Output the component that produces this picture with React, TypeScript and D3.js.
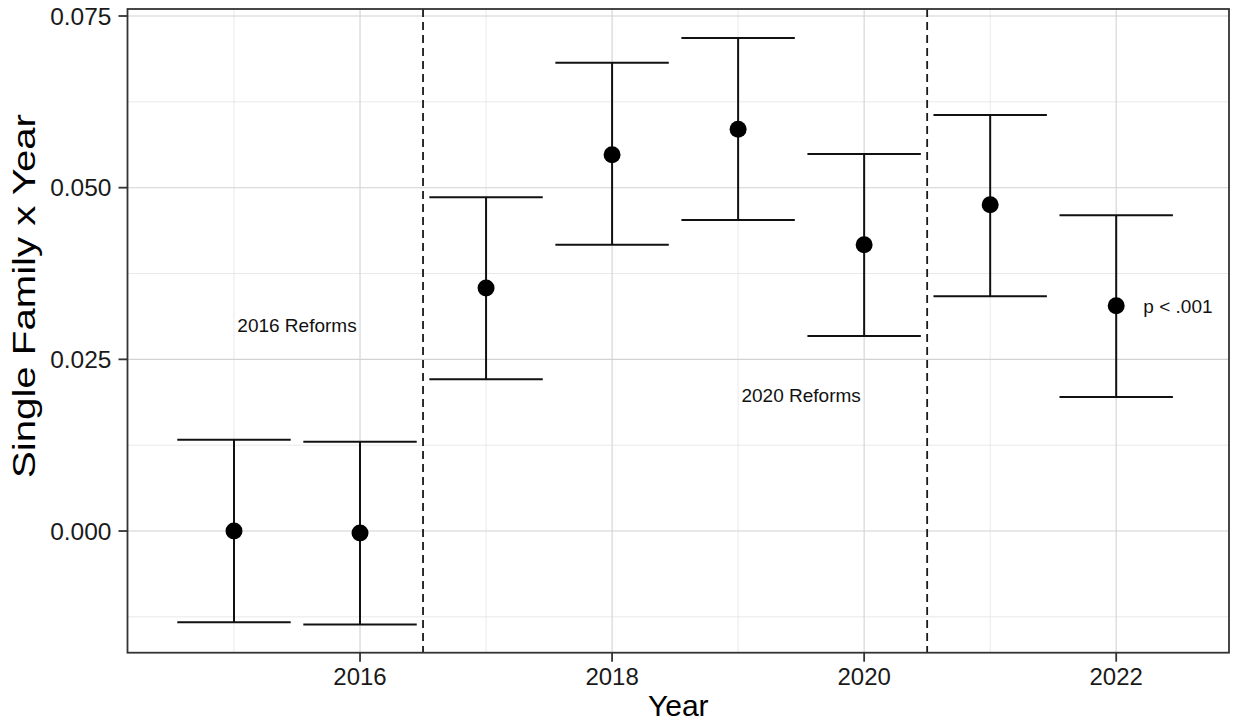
import React from "react";
import * as d3 from "d3";

const years = [2015, 2016, 2017, 2018, 2019, 2020, 2021, 2022];
const estimates = [0.0, -0.0003, 0.0354, 0.0548, 0.0585, 0.0417, 0.0475, 0.0328];
const lowerCI = [-0.0133, -0.0136, 0.0221, 0.0417, 0.0453, 0.0284, 0.0342, 0.0195];
const upperCI = [0.0133, 0.013, 0.0486, 0.0682, 0.0718, 0.0549, 0.0606, 0.046];

const xTicks = [2016, 2018, 2020, 2022];
const xMinor = [2015, 2017, 2019, 2021];
const yTicks = [0.0, 0.025, 0.05, 0.075];
const yTickLabels = ["0.000", "0.025", "0.050", "0.075"];
const yMinor = [-0.0125, 0.0125, 0.0375, 0.0625];
const reformLines = [2016.5, 2020.5];
const annotations = [
  { x: 2015.5, y: 0.03, label: "2016 Reforms" },
  { x: 2019.5, y: 0.0198, label: "2020 Reforms" },
  { x: 2022.49, y: 0.0327, label: "p < .001" },
];

const W = 1235;
const H = 725;
const L = 127.5, R = 1229, T = 9, B = 652.7;
const FONT = "'Liberation Sans', Arial, Helvetica, sans-serif";

export default function App() {
  const x = d3.scaleLinear().domain([2014.155, 2022.895]).range([L, R]);
  const y = d3.scaleLinear().domain([-0.01772, 0.07602]).range([B, T]);
  const capHalf = x(2015.45) - x(2015);

  return (
    <svg width={W} height={H} style={{ position: "absolute", left: 0, top: 0, background: "#fff" }}>
      <rect x={0} y={0} width={W} height={H} fill="#fff" />
      {/* minor grid */}
      {xMinor.map((v) => (
        <line key={"xm" + v} x1={x(v)} x2={x(v)} y1={T} y2={B} stroke="#e3e3e3" strokeWidth={0.8} />
      ))}
      {yMinor.map((v) => (
        <line key={"ym" + v} x1={L} x2={R} y1={y(v)} y2={y(v)} stroke="#e3e3e3" strokeWidth={0.8} />
      ))}
      {/* major grid */}
      {xTicks.map((v) => (
        <line key={"xg" + v} x1={x(v)} x2={x(v)} y1={T} y2={B} stroke="#d2d2d2" strokeWidth={1.1} />
      ))}
      {yTicks.map((v) => (
        <line key={"yg" + v} x1={L} x2={R} y1={y(v)} y2={y(v)} stroke="#d2d2d2" strokeWidth={1.1} />
      ))}
      {/* reform lines */}
      {reformLines.map((v) => (
        <line key={"rl" + v} x1={x(v)} x2={x(v)} y1={T} y2={B} stroke="#1a1a1a" strokeWidth={1.8} strokeDasharray="8,5" />
      ))}
      {/* error bars */}
      {years.map((yr, i) => (
        <g key={"eb" + yr} stroke="#111" strokeWidth={2}>
          <line x1={x(yr)} x2={x(yr)} y1={y(upperCI[i])} y2={y(lowerCI[i])} />
          <line x1={x(yr) - capHalf} x2={x(yr) + capHalf} y1={y(upperCI[i])} y2={y(upperCI[i])} />
          <line x1={x(yr) - capHalf} x2={x(yr) + capHalf} y1={y(lowerCI[i])} y2={y(lowerCI[i])} />
        </g>
      ))}
      {/* points */}
      {years.map((yr, i) => (
        <circle key={"pt" + yr} cx={x(yr)} cy={y(estimates[i])} r={8.5} fill="#000" />
      ))}
      {/* annotations */}
      {annotations.map((a) => (
        <text key={a.label} x={x(a.x)} y={y(a.y)} textAnchor="middle" dominantBaseline="central"
          fontFamily={FONT} fontSize={19} fill="#111">{a.label}</text>
      ))}
      {/* panel border */}
      <rect x={L} y={T} width={R - L} height={B - T} fill="none" stroke="#333" strokeWidth={1.8} />
      {/* y axis ticks */}
      {yTicks.map((v, i) => (
        <g key={"yt" + v}>
          <line x1={L - 9} x2={L} y1={y(v)} y2={y(v)} stroke="#333" strokeWidth={1.8} />
          <text x={L - 16} y={y(v)} textAnchor="end" dominantBaseline="central" fontFamily={FONT} fontSize={24.5} fill="#1a1a1a">
            {yTickLabels[i]}
          </text>
        </g>
      ))}
      {/* x axis ticks */}
      {xTicks.map((v) => (
        <g key={"xt" + v}>
          <line x1={x(v)} x2={x(v)} y1={B} y2={B + 9} stroke="#333" strokeWidth={1.8} />
          <text x={x(v)} y={685} textAnchor="middle" fontFamily={FONT} fontSize={24} fill="#1a1a1a">
            {v}
          </text>
        </g>
      ))}
      {/* axis titles */}
      <text x={(L + R) / 2} y={716} textAnchor="middle" fontFamily={FONT} fontSize={30} fill="#000">Year</text>
      <text transform={`translate(35, 296) rotate(-90)`} textAnchor="middle" fontFamily={FONT} fontSize={32}
        textLength={364} lengthAdjust="spacingAndGlyphs" fill="#000">
        Single Family x Year
      </text>
    </svg>
  );
}
